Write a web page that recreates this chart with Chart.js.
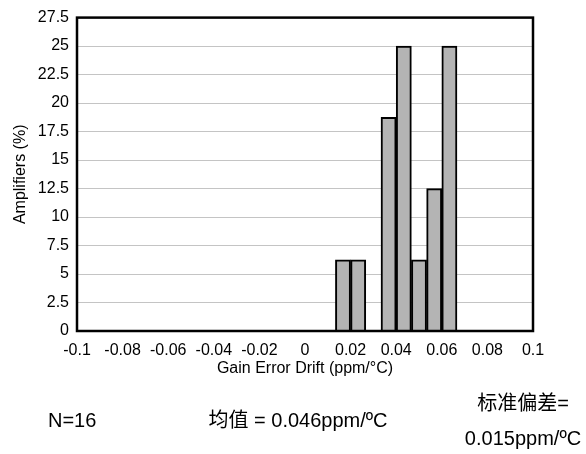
<!DOCTYPE html>
<html>
<head>
<meta charset="utf-8">
<script src="https://cdn.jsdelivr.net/npm/chart.js@4.4.1/dist/chart.umd.min.js"></script>
<style>
    html, body { margin: 0; padding: 0; background: #fff; }
    #wrap { width: 586px; height: 454px; }
</style>
</head>
<body>
<div id="wrap"><canvas id="histChart"></canvas></div>
<script>
// bin centres (ppm/°C) and share of amplifiers per bin (%)
const binCenters = [0.01667, 0.02333, 0.03, 0.03667, 0.04333, 0.05, 0.05667, 0.06333];
const amplifiersPct = [6.25, 6.25, 0, 18.75, 25, 6.25, 12.5, 25];

const xTickValues = [-0.1, -0.08, -0.06, -0.04, -0.02, 0, 0.02, 0.04, 0.06, 0.08, 0.1];
const yTickValues = [0, 2.5, 5, 7.5, 10, 12.5, 15, 17.5, 20, 22.5, 25, 27.5];

const xTitle = 'Gain Error Drift (ppm/°C)';
const yTitle = 'Amplifiers (%)';
const notes = ['N=16', '均值 = 0.046ppm/ºC', '标准偏差=', '0.015ppm/ºC'];

const FONT = "'Liberation Sans', Arial, 'Noto Sans CJK SC', sans-serif";
Chart.defaults.font.family = FONT;
Chart.defaults.color = '#000';

// frame round the plot area
const frameBox = {
    id: 'frameBox',
    afterDatasetsDraw(chart) {
        const { ctx, chartArea: a } = chart;
        ctx.save();
        ctx.strokeStyle = '#000';
        ctx.lineWidth = 2.5;
        ctx.strokeRect(a.left, a.top, a.right - a.left, a.bottom - a.top);
        ctx.restore();
    },
};

// N / mean / std notes under the chart
const statNotes = {
    id: 'statNotes',
    afterDraw(chart) {
        const ctx = chart.ctx;
        ctx.save();
        ctx.fillStyle = '#000';
        ctx.font = '20px ' + FONT;
        ctx.textBaseline = 'middle';
        ctx.textAlign = 'left';
        ctx.fillText(notes[0], 48, 421);
        ctx.textAlign = 'center';
        ctx.fillText(notes[1], 298, 421);
        ctx.fillText(notes[2], 523, 404);
        ctx.fillText(notes[3], 523, 439);
        ctx.restore();
    },
};

const fmt = (v) => String(parseFloat(Number(v).toFixed(3)));

new Chart(document.getElementById('histChart'), {
    type: 'bar',
    data: {
        datasets: [
            {
                label: 'Amplifiers',
                data: binCenters.map((x, i) => ({ x: x, y: amplifiersPct[i] })),
                backgroundColor: '#b4b4b4',
                borderColor: '#000',
                borderWidth: 2,
                barPercentage: 1,
                categoryPercentage: 1,
            },
        ],
    },
    options: {
        responsive: true,
        maintainAspectRatio: false,
        animation: false,
        layout: {
            padding: { left: 0, right: 53, top: 11, bottom: 73 },
        },
        plugins: {
            legend: { display: false },
            tooltip: { enabled: false },
        },
        scales: {
            x: {
                type: 'linear',
                min: -0.1,
                max: 0.1,
                offset: false,
                afterFit: (scale) => { scale.height = 50; },
                afterBuildTicks: (scale) => { scale.ticks = xTickValues.map((v) => ({ value: v })); },
                grid: { display: false, offset: false, drawTicks: false },
                border: { display: false },
                ticks: {
                    padding: 10,
                    maxRotation: 0,
                    autoSkip: false,
                    font: { size: 16 },
                    callback: (v) => fmt(v),
                },
                title: {
                    display: true,
                    text: xTitle,
                    font: { size: 16 },
                    padding: { top: 0, bottom: 3 },
                },
            },
            y: {
                min: 0,
                max: 27.5,
                afterFit: (scale) => { scale.width = 77; },
                afterBuildTicks: (scale) => { scale.ticks = yTickValues.map((v) => ({ value: v })); },
                grid: { color: '#c4c4c4', lineWidth: 1, drawTicks: false },
                border: { display: false },
                ticks: {
                    padding: 8,
                    autoSkip: false,
                    font: { size: 16 },
                    callback: (v) => fmt(v),
                },
                title: {
                    display: true,
                    text: yTitle,
                    font: { size: 16 },
                    padding: { top: 11, bottom: 0 },
                },
            },
        },
    },
    plugins: [frameBox, statNotes],
});
</script>
</body>
</html>
